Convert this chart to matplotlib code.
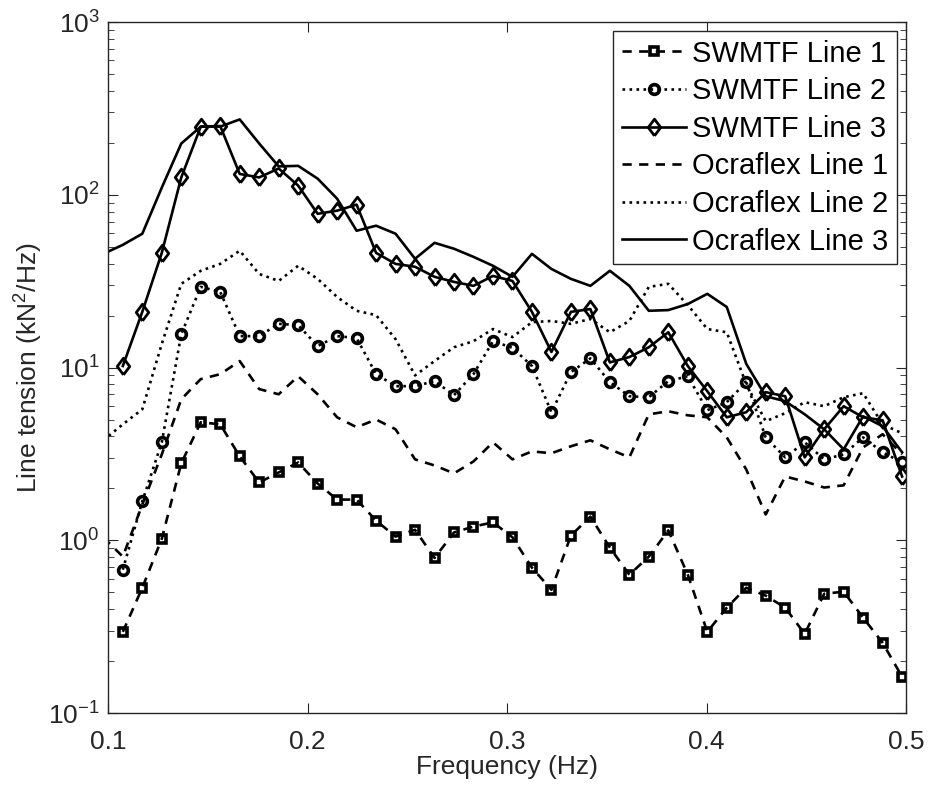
import numpy as np
import matplotlib
matplotlib.use('Agg')
import matplotlib.pyplot as plt

plt.rcParams['font.family'] = ['Liberation Sans', 'DejaVu Sans']
plt.rcParams['mathtext.fontset'] = 'custom'
plt.rcParams['mathtext.rm'] = 'Liberation Sans'
plt.rcParams['mathtext.it'] = 'Liberation Sans:italic'

# frequency grid (df = 1/102.4 Hz), SWMTF from bin 11, Ocraflex from bin 10
freq_swmtf = np.arange(11, 52) / 102.4
freq_orca = np.arange(10, 52) / 102.4

swmtf1 = [0.295, 0.531, 1.02, 2.79, 4.82, 4.69, 3.06, 2.16, 2.47, 2.82,
          2.13, 1.72, 1.72, 1.30, 1.05, 1.15, 0.79, 1.11, 1.20, 1.27,
          1.04, 0.694, 0.517, 1.065, 1.37, 0.907, 0.632, 0.804, 1.14, 0.632,
          0.295, 0.407, 0.531, 0.478, 0.407, 0.287, 0.490, 0.504, 0.356, 0.255, 0.162]
swmtf2 = [0.676, 1.68, 3.69, 15.6, 29.3, 27.4, 15.2, 15.2, 17.9, 17.6,
          13.3, 15.2, 14.8, 9.16, 7.8, 7.8, 8.34, 6.92, 9.16, 14.2,
          13.0, 10.2, 5.51, 9.4, 11.3, 8.23, 6.82, 6.73, 8.34, 8.9,
          5.66, 6.3, 8.23, 3.94, 3.02, 3.69, 2.94, 3.14, 3.94, 3.23, 2.82]
swmtf3 = [10.2, 21.0, 46.1, 126, 248, 250, 132, 126, 142, 113,
          77.6, 80.9, 87.7, 46.1, 39.8, 38.3, 33.5, 31.3, 29.7, 33.9,
          31.7, 21.0, 12.3, 21.0, 21.8, 10.7, 11.5, 13.1, 16.0, 10.2,
          7.29, 5.15, 5.51, 7.2, 6.82, 3.02, 4.39, 5.97, 5.15, 4.95, 2.34]

orca1 = [1.04, 0.804, 1.61, 3.14, 6.55, 8.57, 9.15, 10.9, 7.5, 7.0, 8.9,
         7.0, 5.15, 4.51, 5.0, 4.39, 2.94, 2.71, 2.44, 2.86, 3.69,
         2.94, 3.27, 3.19, 3.50, 3.79, 3.36, 3.02, 5.36, 5.58, 5.29,
         5.15, 3.94, 2.57, 1.41, 2.34, 2.19, 2.02, 2.08, 3.45, 4.11, 3.14]
orca2 = [3.79, 4.69, 5.73, 13.7, 30.5, 36.3, 39.8, 47.4, 34.8, 31.7, 38.8,
         32.6, 25.6, 21.3, 20.1, 14.6, 9.0, 10.9, 13.1, 14.2, 16.7,
         15.0, 18.3, 18.6, 17.9, 19.1, 16.0, 18.6, 29.3, 30.5, 23.0,
         16.7, 16.0, 8.0, 4.89, 5.44, 6.3, 5.97, 6.73, 7.1, 4.69, 4.16]
orca3 = [45.5, 51.3, 59.5, 110, 198, 248, 248, 273, 198, 146, 147,
         124, 94.9, 61.9, 66.2, 59.5, 42.6, 52.7, 48.7, 43.7, 38.8,
         33.5, 45.5, 37.2, 32.6, 29.7, 36.3, 29.7, 21.3, 21.5, 23.3,
         26.7, 22.4, 10.5, 6.82, 6.38, 5.36, 4.39, 3.36, 5.22, 4.57, 3.23]

labels = ['SWMTF Line 1', 'SWMTF Line 2', 'SWMTF Line 3',
          'Ocraflex Line 1', 'Ocraflex Line 2', 'Ocraflex Line 3']

fig = plt.figure(figsize=(9.32, 7.89), dpi=100)
ax = fig.add_axes([0.1159, 0.0963, 0.8562, 0.8758])

lw = 1.9
dash = (3.5, 2.8)
# matlab-like diamond (taller than wide)
diamond = [(0, -1), (0.75, 0), (0, 1), (-0.75, 0), (0, -1)]
ax.plot(freq_swmtf, swmtf1, color='k', lw=lw, dashes=dash, marker='s', ms=6, mew=2.6,
        mfc='none', mec='k', label=labels[0])
ax.plot(freq_swmtf, swmtf2, ':', color='k', lw=lw, marker='o', ms=7, mew=2.6,
        mfc='none', mec='k', label=labels[1])
ax.plot(freq_swmtf, swmtf3, '-', color='k', lw=lw, marker=diamond, ms=12, mew=2,
        mfc='none', mec='k', label=labels[2])
ax.plot(freq_orca, orca1, color='k', lw=lw, dashes=dash, label=labels[3])
ax.plot(freq_orca, orca2, ':', color='k', lw=lw, label=labels[4])
ax.plot(freq_orca, orca3, '-', color='k', lw=lw, label=labels[5])

ax.set_yscale('log')
ax.set_xlim(0.1, 0.5)
ax.set_ylim(0.1, 1000)
ax.set_xticks([0.1, 0.2, 0.3, 0.4, 0.5])
ax.set_xticklabels(['0.1', '0.2', '0.3', '0.4', '0.5'])

gray = '#262626'
for s in ax.spines.values():
    s.set_color(gray)
    s.set_linewidth(1.0)
ax.tick_params(which='both', direction='in', top=True, right=True,
               colors=gray, labelsize=19)
ax.tick_params(which='major', length=7)
ax.tick_params(which='minor', length=4)
ax.tick_params(axis='x', which='major', pad=12)
ax.tick_params(axis='y', which='major', pad=6)

ax.set_xlabel('Frequency (Hz)', fontsize=19, color=gray, labelpad=1)
ax.set_ylabel('Line tension (kN$^2$/Hz)', fontsize=19, color=gray, labelpad=2)

leg = ax.legend(loc='upper right', fontsize=21, frameon=True, fancybox=False,
                edgecolor=gray, framealpha=1, handlelength=2.2, numpoints=1,
                borderpad=0.3, labelspacing=0.33, handletextpad=0.2,
                borderaxespad=0.3)
leg.get_frame().set_linewidth(1.0)

fig.savefig('out.png', dpi=100)
